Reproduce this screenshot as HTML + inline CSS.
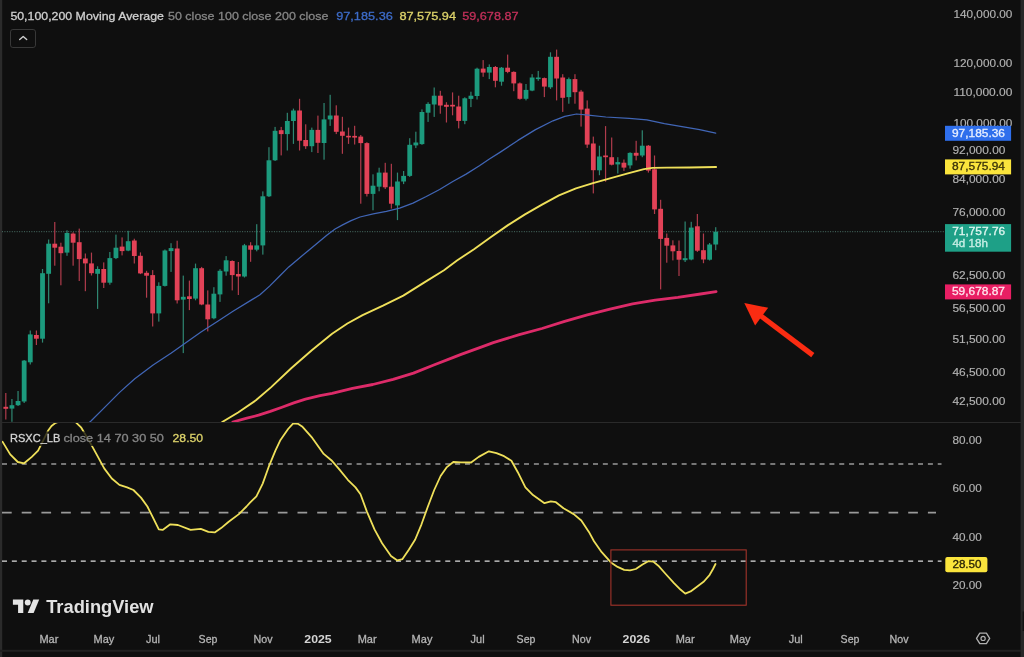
<!DOCTYPE html><html><head><meta charset="utf-8"><title>chart</title><style>
html,body{margin:0;padding:0;background:#0f0f0f;}body{width:1024px;height:657px;overflow:hidden;}
svg{display:block;font-family:"Liberation Sans",sans-serif;will-change:transform;}
</style></head><body>
<svg width="1024" height="657" viewBox="0 0 1024 657">
<rect x="0" y="0" width="1024" height="657" fill="#0f0f0f"/>
<rect x="0" y="0" width="2.2" height="657" fill="#2b2b2b"/>
<rect x="1020.6" y="0" width="3.4" height="657" fill="#272727"/><rect x="1022.6" y="611.5" width="1.4" height="19.5" fill="#121212"/>
<rect x="0" y="649.8" width="1021" height="2" fill="#212121"/>
<rect x="2" y="422" width="1019" height="1" fill="#2a2a2a"/>
<defs><clipPath id="cm"><rect x="2" y="0" width="942" height="422"/></clipPath><clipPath id="cr"><rect x="2" y="423" width="942" height="227"/></clipPath></defs>
<g clip-path="url(#cm)">
<line x1="2" y1="231.7" x2="944" y2="231.7" stroke="#5a8a7e" stroke-width="1" stroke-dasharray="1 1.45" opacity="0.8"/>
<rect x="5.20" y="393.0" width="1.2" height="26.5" fill="#b03c4c"/>
<rect x="3.40" y="406.8" width="4.8" height="2.0" fill="#e24257"/>
<rect x="11.32" y="399.0" width="1.2" height="22.8" fill="#2f8772"/>
<rect x="9.52" y="405.2" width="4.8" height="3.4" fill="#1c9a7d"/>
<rect x="17.44" y="391.0" width="1.2" height="15.0" fill="#2f8772"/>
<rect x="15.64" y="401.0" width="4.8" height="4.2" fill="#1c9a7d"/>
<rect x="23.56" y="360.0" width="1.2" height="43.0" fill="#2f8772"/>
<rect x="21.76" y="360.6" width="4.8" height="40.9" fill="#1c9a7d"/>
<rect x="29.68" y="330.5" width="1.2" height="34.0" fill="#2f8772"/>
<rect x="27.88" y="334.4" width="4.8" height="27.9" fill="#1c9a7d"/>
<rect x="35.80" y="330.5" width="1.2" height="14.5" fill="#b03c4c"/>
<rect x="34.00" y="335.0" width="4.8" height="3.7" fill="#e24257"/>
<rect x="41.92" y="269.0" width="1.2" height="73.6" fill="#2f8772"/>
<rect x="40.12" y="273.2" width="4.8" height="65.5" fill="#1c9a7d"/>
<rect x="48.04" y="239.5" width="1.2" height="63.8" fill="#2f8772"/>
<rect x="46.24" y="243.7" width="4.8" height="30.1" fill="#1c9a7d"/>
<rect x="54.16" y="222.0" width="1.2" height="43.7" fill="#b03c4c"/>
<rect x="52.36" y="243.7" width="4.8" height="4.0" fill="#e24257"/>
<rect x="60.28" y="242.7" width="1.2" height="42.6" fill="#b03c4c"/>
<rect x="58.48" y="246.7" width="4.8" height="6.5" fill="#e24257"/>
<rect x="66.40" y="230.3" width="1.2" height="25.5" fill="#2f8772"/>
<rect x="64.60" y="233.0" width="4.8" height="19.6" fill="#1c9a7d"/>
<rect x="72.52" y="232.3" width="1.2" height="33.4" fill="#b03c4c"/>
<rect x="70.72" y="233.6" width="4.8" height="9.1" fill="#e24257"/>
<rect x="78.64" y="228.6" width="1.2" height="52.4" fill="#b03c4c"/>
<rect x="76.84" y="242.2" width="4.8" height="16.9" fill="#e24257"/>
<rect x="84.76" y="253.5" width="1.2" height="37.7" fill="#b03c4c"/>
<rect x="82.96" y="258.5" width="4.8" height="4.9" fill="#e24257"/>
<rect x="90.88" y="252.6" width="1.2" height="22.9" fill="#b03c4c"/>
<rect x="89.08" y="263.4" width="4.8" height="9.8" fill="#e24257"/>
<rect x="97.00" y="266.3" width="1.2" height="42.6" fill="#2f8772"/>
<rect x="95.20" y="269.0" width="4.8" height="4.8" fill="#1c9a7d"/>
<rect x="103.12" y="262.4" width="1.2" height="25.6" fill="#b03c4c"/>
<rect x="101.32" y="269.0" width="4.8" height="13.7" fill="#e24257"/>
<rect x="109.24" y="252.0" width="1.2" height="32.7" fill="#2f8772"/>
<rect x="107.44" y="258.1" width="4.8" height="24.6" fill="#1c9a7d"/>
<rect x="115.36" y="234.6" width="1.2" height="24.5" fill="#2f8772"/>
<rect x="113.56" y="247.7" width="4.8" height="10.4" fill="#1c9a7d"/>
<rect x="121.48" y="237.4" width="1.2" height="18.0" fill="#b03c4c"/>
<rect x="119.68" y="246.6" width="4.8" height="4.5" fill="#e24257"/>
<rect x="127.60" y="230.8" width="1.2" height="20.4" fill="#2f8772"/>
<rect x="125.80" y="241.2" width="4.8" height="9.4" fill="#1c9a7d"/>
<rect x="133.72" y="238.7" width="1.2" height="24.8" fill="#b03c4c"/>
<rect x="131.92" y="240.5" width="4.8" height="15.5" fill="#e24257"/>
<rect x="139.84" y="252.4" width="1.2" height="21.7" fill="#b03c4c"/>
<rect x="138.04" y="255.8" width="4.8" height="17.6" fill="#e24257"/>
<rect x="145.96" y="270.8" width="1.2" height="26.9" fill="#b03c4c"/>
<rect x="144.16" y="272.8" width="4.8" height="2.9" fill="#e24257"/>
<rect x="152.08" y="270.1" width="1.2" height="56.4" fill="#b03c4c"/>
<rect x="150.28" y="275.1" width="4.8" height="38.3" fill="#e24257"/>
<rect x="158.20" y="282.3" width="1.2" height="39.3" fill="#2f8772"/>
<rect x="156.40" y="285.9" width="4.8" height="27.5" fill="#1c9a7d"/>
<rect x="164.32" y="249.5" width="1.2" height="37.0" fill="#2f8772"/>
<rect x="162.52" y="250.5" width="4.8" height="35.4" fill="#1c9a7d"/>
<rect x="170.44" y="243.2" width="1.2" height="28.7" fill="#2f8772"/>
<rect x="168.64" y="248.1" width="4.8" height="3.0" fill="#1c9a7d"/>
<rect x="176.56" y="240.7" width="1.2" height="62.8" fill="#b03c4c"/>
<rect x="174.76" y="248.5" width="4.8" height="51.8" fill="#e24257"/>
<rect x="182.68" y="275.6" width="1.2" height="77.5" fill="#2f8772"/>
<rect x="180.88" y="296.8" width="4.8" height="2.8" fill="#1c9a7d"/>
<rect x="188.80" y="280.6" width="1.2" height="29.5" fill="#b03c4c"/>
<rect x="187.00" y="296.3" width="4.8" height="2.7" fill="#e24257"/>
<rect x="194.92" y="263.6" width="1.2" height="36.7" fill="#2f8772"/>
<rect x="193.12" y="268.2" width="4.8" height="30.4" fill="#1c9a7d"/>
<rect x="201.04" y="266.9" width="1.2" height="38.3" fill="#b03c4c"/>
<rect x="199.24" y="268.2" width="4.8" height="36.3" fill="#e24257"/>
<rect x="207.16" y="290.4" width="1.2" height="41.0" fill="#b03c4c"/>
<rect x="205.36" y="304.5" width="4.8" height="14.8" fill="#e24257"/>
<rect x="213.28" y="287.2" width="1.2" height="32.1" fill="#2f8772"/>
<rect x="211.48" y="293.7" width="4.8" height="24.6" fill="#1c9a7d"/>
<rect x="219.40" y="269.2" width="1.2" height="32.7" fill="#2f8772"/>
<rect x="217.60" y="270.8" width="4.8" height="23.6" fill="#1c9a7d"/>
<rect x="225.52" y="256.1" width="1.2" height="19.6" fill="#2f8772"/>
<rect x="223.72" y="260.3" width="4.8" height="11.2" fill="#1c9a7d"/>
<rect x="231.64" y="260.3" width="1.2" height="30.1" fill="#b03c4c"/>
<rect x="229.84" y="261.0" width="4.8" height="14.1" fill="#e24257"/>
<rect x="237.76" y="262.0" width="1.2" height="33.0" fill="#b03c4c"/>
<rect x="235.96" y="274.0" width="4.8" height="2.5" fill="#e24257"/>
<rect x="243.88" y="243.9" width="1.2" height="33.6" fill="#2f8772"/>
<rect x="242.08" y="245.3" width="4.8" height="31.2" fill="#1c9a7d"/>
<rect x="250.00" y="242.2" width="1.2" height="19.6" fill="#b03c4c"/>
<rect x="248.20" y="245.4" width="4.8" height="4.3" fill="#e24257"/>
<rect x="256.12" y="224.2" width="1.2" height="27.1" fill="#2f8772"/>
<rect x="254.32" y="245.4" width="4.8" height="4.3" fill="#1c9a7d"/>
<rect x="262.24" y="191.4" width="1.2" height="63.2" fill="#2f8772"/>
<rect x="260.44" y="196.3" width="4.8" height="49.1" fill="#1c9a7d"/>
<rect x="268.36" y="147.2" width="1.2" height="49.8" fill="#2f8772"/>
<rect x="266.56" y="160.3" width="4.8" height="36.0" fill="#1c9a7d"/>
<rect x="274.48" y="126.9" width="1.2" height="34.1" fill="#2f8772"/>
<rect x="272.68" y="130.8" width="4.8" height="29.5" fill="#1c9a7d"/>
<rect x="280.60" y="126.9" width="1.2" height="28.5" fill="#b03c4c"/>
<rect x="278.80" y="130.2" width="4.8" height="3.9" fill="#e24257"/>
<rect x="286.72" y="112.8" width="1.2" height="37.7" fill="#2f8772"/>
<rect x="284.92" y="121.0" width="4.8" height="13.1" fill="#1c9a7d"/>
<rect x="292.84" y="108.6" width="1.2" height="35.3" fill="#2f8772"/>
<rect x="291.04" y="110.5" width="4.8" height="10.5" fill="#1c9a7d"/>
<rect x="298.96" y="98.8" width="1.2" height="51.7" fill="#b03c4c"/>
<rect x="297.16" y="110.5" width="4.8" height="30.2" fill="#e24257"/>
<rect x="305.08" y="124.3" width="1.2" height="24.6" fill="#b03c4c"/>
<rect x="303.28" y="140.0" width="4.8" height="6.2" fill="#e24257"/>
<rect x="311.20" y="127.6" width="1.2" height="24.5" fill="#2f8772"/>
<rect x="309.40" y="129.9" width="4.8" height="16.3" fill="#1c9a7d"/>
<rect x="317.32" y="115.6" width="1.2" height="37.4" fill="#b03c4c"/>
<rect x="315.52" y="129.9" width="4.8" height="12.9" fill="#e24257"/>
<rect x="323.44" y="103.0" width="1.2" height="56.7" fill="#2f8772"/>
<rect x="321.64" y="119.4" width="4.8" height="23.6" fill="#1c9a7d"/>
<rect x="329.56" y="94.8" width="1.2" height="31.1" fill="#2f8772"/>
<rect x="327.76" y="115.5" width="4.8" height="3.9" fill="#1c9a7d"/>
<rect x="335.68" y="105.3" width="1.2" height="28.8" fill="#b03c4c"/>
<rect x="333.88" y="115.5" width="4.8" height="16.3" fill="#e24257"/>
<rect x="341.80" y="116.8" width="1.2" height="37.0" fill="#b03c4c"/>
<rect x="340.00" y="131.5" width="4.8" height="4.3" fill="#e24257"/>
<rect x="347.92" y="127.6" width="1.2" height="16.3" fill="#b03c4c"/>
<rect x="346.12" y="135.8" width="4.8" height="1.6" fill="#e24257"/>
<rect x="354.04" y="125.8" width="1.2" height="18.7" fill="#b03c4c"/>
<rect x="352.24" y="135.9" width="4.8" height="1.7" fill="#e24257"/>
<rect x="360.16" y="135.0" width="1.2" height="68.7" fill="#b03c4c"/>
<rect x="358.36" y="136.6" width="4.8" height="6.5" fill="#e24257"/>
<rect x="366.28" y="142.2" width="1.2" height="54.3" fill="#b03c4c"/>
<rect x="364.48" y="143.1" width="4.8" height="50.8" fill="#e24257"/>
<rect x="372.40" y="174.3" width="1.2" height="36.0" fill="#2f8772"/>
<rect x="370.60" y="185.7" width="4.8" height="8.2" fill="#1c9a7d"/>
<rect x="378.52" y="167.7" width="1.2" height="23.6" fill="#2f8772"/>
<rect x="376.72" y="172.6" width="4.8" height="14.1" fill="#1c9a7d"/>
<rect x="384.64" y="162.8" width="1.2" height="26.2" fill="#b03c4c"/>
<rect x="382.84" y="172.6" width="4.8" height="14.7" fill="#e24257"/>
<rect x="390.76" y="163.8" width="1.2" height="44.8" fill="#b03c4c"/>
<rect x="388.96" y="186.7" width="4.8" height="17.0" fill="#e24257"/>
<rect x="396.88" y="172.6" width="1.2" height="47.5" fill="#2f8772"/>
<rect x="395.08" y="181.5" width="4.8" height="23.9" fill="#1c9a7d"/>
<rect x="403.00" y="171.0" width="1.2" height="13.1" fill="#2f8772"/>
<rect x="401.20" y="175.9" width="4.8" height="5.6" fill="#1c9a7d"/>
<rect x="409.12" y="138.2" width="1.2" height="38.7" fill="#2f8772"/>
<rect x="407.32" y="144.8" width="4.8" height="31.1" fill="#1c9a7d"/>
<rect x="415.24" y="131.7" width="1.2" height="16.4" fill="#2f8772"/>
<rect x="413.44" y="142.5" width="4.8" height="2.9" fill="#1c9a7d"/>
<rect x="421.36" y="109.4" width="1.2" height="35.4" fill="#2f8772"/>
<rect x="419.56" y="112.0" width="4.8" height="32.1" fill="#1c9a7d"/>
<rect x="427.48" y="102.2" width="1.2" height="19.7" fill="#2f8772"/>
<rect x="425.68" y="103.9" width="4.8" height="8.8" fill="#1c9a7d"/>
<rect x="433.60" y="87.5" width="1.2" height="29.4" fill="#2f8772"/>
<rect x="431.80" y="95.7" width="4.8" height="8.8" fill="#1c9a7d"/>
<rect x="439.72" y="90.8" width="1.2" height="22.9" fill="#b03c4c"/>
<rect x="437.92" y="95.7" width="4.8" height="9.8" fill="#e24257"/>
<rect x="445.84" y="102.2" width="1.2" height="20.3" fill="#b03c4c"/>
<rect x="444.04" y="104.8" width="4.8" height="2.0" fill="#e24257"/>
<rect x="451.96" y="92.4" width="1.2" height="22.9" fill="#b03c4c"/>
<rect x="450.16" y="104.8" width="4.8" height="1.7" fill="#e24257"/>
<rect x="458.08" y="95.7" width="1.2" height="32.7" fill="#b03c4c"/>
<rect x="456.28" y="106.5" width="4.8" height="14.4" fill="#e24257"/>
<rect x="464.20" y="97.3" width="1.2" height="26.9" fill="#2f8772"/>
<rect x="462.40" y="98.3" width="4.8" height="22.6" fill="#1c9a7d"/>
<rect x="470.32" y="91.7" width="1.2" height="15.4" fill="#2f8772"/>
<rect x="468.52" y="95.7" width="4.8" height="3.2" fill="#1c9a7d"/>
<rect x="476.44" y="67.7" width="1.2" height="31.8" fill="#2f8772"/>
<rect x="474.64" y="68.7" width="4.8" height="27.3" fill="#1c9a7d"/>
<rect x="482.56" y="60.1" width="1.2" height="16.7" fill="#b03c4c"/>
<rect x="480.76" y="68.6" width="4.8" height="4.0" fill="#e24257"/>
<rect x="488.68" y="64.4" width="1.2" height="14.7" fill="#2f8772"/>
<rect x="486.88" y="67.0" width="4.8" height="5.6" fill="#1c9a7d"/>
<rect x="494.80" y="66.0" width="1.2" height="21.3" fill="#b03c4c"/>
<rect x="493.00" y="67.0" width="4.8" height="13.8" fill="#e24257"/>
<rect x="500.92" y="67.0" width="1.2" height="18.7" fill="#2f8772"/>
<rect x="499.12" y="67.7" width="4.8" height="14.0" fill="#1c9a7d"/>
<rect x="507.04" y="54.6" width="1.2" height="18.6" fill="#b03c4c"/>
<rect x="505.24" y="67.7" width="4.8" height="4.2" fill="#e24257"/>
<rect x="513.16" y="71.3" width="1.2" height="19.9" fill="#b03c4c"/>
<rect x="511.36" y="71.9" width="4.8" height="11.5" fill="#e24257"/>
<rect x="519.28" y="82.4" width="1.2" height="17.3" fill="#b03c4c"/>
<rect x="517.48" y="83.4" width="4.8" height="15.4" fill="#e24257"/>
<rect x="525.40" y="84.0" width="1.2" height="16.4" fill="#2f8772"/>
<rect x="523.60" y="89.9" width="4.8" height="8.9" fill="#1c9a7d"/>
<rect x="531.52" y="74.2" width="1.2" height="17.0" fill="#2f8772"/>
<rect x="529.72" y="77.5" width="4.8" height="13.1" fill="#1c9a7d"/>
<rect x="537.64" y="70.9" width="1.2" height="9.9" fill="#2f8772"/>
<rect x="535.84" y="77.5" width="4.8" height="1.6" fill="#1c9a7d"/>
<rect x="543.76" y="77.5" width="1.2" height="19.6" fill="#b03c4c"/>
<rect x="541.96" y="78.1" width="4.8" height="8.5" fill="#e24257"/>
<rect x="549.88" y="52.3" width="1.2" height="36.6" fill="#2f8772"/>
<rect x="548.08" y="56.8" width="4.8" height="30.5" fill="#1c9a7d"/>
<rect x="556.00" y="49.6" width="1.2" height="50.8" fill="#b03c4c"/>
<rect x="554.20" y="56.8" width="4.8" height="21.7" fill="#e24257"/>
<rect x="562.12" y="74.2" width="1.2" height="37.7" fill="#b03c4c"/>
<rect x="560.32" y="77.5" width="4.8" height="20.3" fill="#e24257"/>
<rect x="568.24" y="77.5" width="1.2" height="26.2" fill="#2f8772"/>
<rect x="566.44" y="79.1" width="4.8" height="18.0" fill="#1c9a7d"/>
<rect x="574.36" y="74.2" width="1.2" height="29.5" fill="#b03c4c"/>
<rect x="572.56" y="79.1" width="4.8" height="13.1" fill="#e24257"/>
<rect x="580.48" y="89.9" width="1.2" height="36.7" fill="#b03c4c"/>
<rect x="578.68" y="91.6" width="4.8" height="18.0" fill="#e24257"/>
<rect x="586.60" y="100.4" width="1.2" height="47.5" fill="#b03c4c"/>
<rect x="584.80" y="108.6" width="4.8" height="36.0" fill="#e24257"/>
<rect x="592.72" y="136.6" width="1.2" height="56.8" fill="#b03c4c"/>
<rect x="590.92" y="143.5" width="4.8" height="26.7" fill="#e24257"/>
<rect x="598.84" y="145.7" width="1.2" height="29.5" fill="#2f8772"/>
<rect x="597.04" y="156.5" width="4.8" height="13.8" fill="#1c9a7d"/>
<rect x="604.96" y="126.1" width="1.2" height="55.6" fill="#b03c4c"/>
<rect x="603.16" y="155.5" width="4.8" height="1.7" fill="#e24257"/>
<rect x="611.08" y="137.5" width="1.2" height="27.9" fill="#b03c4c"/>
<rect x="609.28" y="157.2" width="4.8" height="7.5" fill="#e24257"/>
<rect x="617.20" y="157.2" width="1.2" height="16.3" fill="#2f8772"/>
<rect x="615.40" y="162.1" width="4.8" height="2.3" fill="#1c9a7d"/>
<rect x="623.32" y="159.5" width="1.2" height="11.4" fill="#b03c4c"/>
<rect x="621.52" y="162.7" width="4.8" height="4.9" fill="#e24257"/>
<rect x="629.44" y="152.3" width="1.2" height="16.3" fill="#2f8772"/>
<rect x="627.64" y="152.9" width="4.8" height="12.5" fill="#1c9a7d"/>
<rect x="635.56" y="140.8" width="1.2" height="19.6" fill="#b03c4c"/>
<rect x="633.76" y="152.8" width="4.8" height="2.9" fill="#e24257"/>
<rect x="641.68" y="130.3" width="1.2" height="26.9" fill="#2f8772"/>
<rect x="639.88" y="145.7" width="4.8" height="9.8" fill="#1c9a7d"/>
<rect x="647.80" y="145.0" width="1.2" height="27.6" fill="#b03c4c"/>
<rect x="646.00" y="145.7" width="4.8" height="24.9" fill="#e24257"/>
<rect x="653.92" y="155.5" width="1.2" height="58.5" fill="#b03c4c"/>
<rect x="652.12" y="169.3" width="4.8" height="40.1" fill="#e24257"/>
<rect x="660.04" y="199.8" width="1.2" height="89.6" fill="#b03c4c"/>
<rect x="658.24" y="208.8" width="4.8" height="30.1" fill="#e24257"/>
<rect x="666.16" y="233.5" width="1.2" height="29.2" fill="#b03c4c"/>
<rect x="664.36" y="237.9" width="4.8" height="7.8" fill="#e24257"/>
<rect x="672.28" y="240.3" width="1.2" height="20.1" fill="#b03c4c"/>
<rect x="670.48" y="245.4" width="4.8" height="5.9" fill="#e24257"/>
<rect x="678.40" y="240.5" width="1.2" height="35.5" fill="#b03c4c"/>
<rect x="676.60" y="251.0" width="4.8" height="8.7" fill="#e24257"/>
<rect x="684.52" y="221.5" width="1.2" height="40.5" fill="#2f8772"/>
<rect x="682.72" y="258.2" width="4.8" height="2.0" fill="#1c9a7d"/>
<rect x="690.64" y="221.8" width="1.2" height="38.5" fill="#2f8772"/>
<rect x="688.84" y="227.6" width="4.8" height="31.9" fill="#1c9a7d"/>
<rect x="696.76" y="214.0" width="1.2" height="37.9" fill="#b03c4c"/>
<rect x="694.96" y="226.3" width="4.8" height="24.4" fill="#e24257"/>
<rect x="702.88" y="233.5" width="1.2" height="29.7" fill="#b03c4c"/>
<rect x="701.08" y="250.2" width="4.8" height="9.3" fill="#e24257"/>
<rect x="709.00" y="243.0" width="1.2" height="17.5" fill="#2f8772"/>
<rect x="707.20" y="244.5" width="4.8" height="15.2" fill="#1c9a7d"/>
<rect x="715.12" y="227.2" width="1.2" height="23.0" fill="#2f8772"/>
<rect x="713.32" y="231.7" width="4.8" height="12.8" fill="#1c9a7d"/>
<polyline fill="none" stroke="#4166b6" stroke-width="1.25" stroke-linejoin="round" stroke-linecap="round" points="88.5,423.0 90.7,421.3 104.4,407.6 119.6,392.4 134.8,378.7 153.1,365.0 171.3,352.9 183.3,344.5 201.0,332.0 217.0,321.8 233.0,311.3 252.0,299.6 260.0,294.8 269.6,286.1 279.2,276.5 288.8,266.9 298.3,258.9 307.9,250.9 317.5,242.9 327.1,234.9 335.1,229.0 343.1,224.6 351.1,220.6 360.0,217.0 373.2,213.9 386.4,211.4 399.7,208.1 413.0,203.1 426.3,196.5 439.6,189.5 452.8,181.5 466.1,174.1 479.4,165.8 489.4,159.1 500.3,152.1 517.9,140.4 535.5,129.6 553.0,120.8 564.8,116.4 576.5,114.0 588.2,115.2 605.8,117.0 629.2,118.4 646.8,119.9 664.4,123.7 682.0,126.6 699.6,129.6 715.7,133.1"/>
<polyline fill="none" stroke="#efe05a" stroke-width="1.9" stroke-linejoin="round" stroke-linecap="round" points="222.2,422.0 238.1,412.5 255.9,400.3 271.2,387.1 291.5,368.0 311.8,350.2 332.1,333.7 347.4,323.5 362.6,315.1 383.0,305.7 403.3,295.6 423.6,282.9 444.0,270.2 457.0,260.5 474.0,249.2 491.0,237.0 508.0,225.1 525.0,214.4 542.0,204.7 559.0,195.4 576.0,188.3 593.0,183.2 610.0,178.4 627.0,173.6 644.0,169.1 652.4,167.9 666.6,167.6 689.2,167.5 716.1,167.0"/>
<polyline fill="none" stroke="#dd2b69" stroke-width="2.8" stroke-linejoin="round" stroke-linecap="round" points="232.8,422.0 246.9,418.1 258.6,415.2 270.3,411.4 282.0,407.2 293.8,402.9 305.5,399.1 320.0,395.6 332.1,393.4 352.5,388.3 372.8,384.5 393.1,379.4 413.5,373.1 433.8,365.0 454.1,357.1 461.1,354.4 482.5,346.6 493.3,342.6 519.3,334.7 542.0,328.5 564.6,321.4 587.3,314.9 610.0,309.2 632.6,303.9 655.2,300.2 677.9,297.4 700.5,294.0 716.1,291.6"/>
</g>
<polygon points="744.3,303.1 768.2,307.7 755.1,325.4" fill="#fb2c12"/>
<line x1="761" y1="316" x2="812.8" y2="355.1" stroke="#fb2c12" stroke-width="5.2"/>
<g clip-path="url(#cr)">
<line x1="2" y1="464" x2="941.5" y2="464" stroke="#dedede" stroke-width="1.1" stroke-dasharray="5 4.85"/>
<line x1="2" y1="561.1" x2="941.5" y2="561.1" stroke="#dedede" stroke-width="1.1" stroke-dasharray="5 4.85"/>
<line x1="2" y1="512.6" x2="936" y2="512.6" stroke="#9a9a9a" stroke-width="1.7" stroke-dasharray="9.7 10"/>
<polyline fill="none" stroke="#efe05a" stroke-width="1.8" stroke-linejoin="round" stroke-linecap="round" points="2.5,441.7 10.2,454.4 17.8,462.0 24.1,463.3 31.8,456.9 38.1,450.6 44.5,437.9 48.0,430.8 51.5,426.0 55.0,423.3 59.5,421.3 66.0,418.0 75.0,421.5 81.3,427.7 88.9,440.4 96.6,454.4 104.2,468.4 111.8,478.5 119.4,484.9 127.1,487.4 133.4,490.0 141.0,497.6 147.4,506.5 152.5,516.7 158.8,529.4 162.6,529.9 170.3,524.3 177.9,525.0 190.6,529.9 200.8,528.9 208.4,531.9 214.7,532.4 221.1,528.1 228.7,521.7 238.9,514.1 246.5,506.5 250.0,502.7 256.4,496.3 262.7,483.6 269.1,465.8 275.4,450.6 280.5,439.9 288.1,429.0 293.2,423.4 298.3,423.9 302.1,426.4 312.3,437.9 323.7,453.9 331.3,460.2 338.9,468.9 347.8,479.8 355.5,487.4 360.5,494.3 366.9,511.6 374.5,529.4 382.1,543.3 391.0,556.0 397.4,560.4 402.5,559.1 408.8,549.7 415.2,539.5 421.5,524.3 427.9,506.5 434.2,490.0 440.6,476.0 446.9,467.1 453.3,462.0 460.9,462.3 471.1,462.5 478.7,456.9 488.9,451.3 496.5,453.1 504.1,456.2 511.4,460.7 517.8,472.2 525.4,487.4 533.0,495.1 544.5,503.2 550.8,501.4 555.9,502.2 563.5,508.3 573.7,514.1 581.3,520.5 588.9,531.9 594.0,541.3 601.7,552.2 610.9,562.4 617.6,566.9 624.2,569.9 630.0,570.4 635.8,569.0 642.5,564.5 648.3,561.2 653.3,561.6 658.3,565.7 665.7,574.0 674.0,583.1 680.7,589.8 685.3,593.6 690.6,591.4 697.3,586.5 703.9,581.5 709.7,574.8 713.0,569.0 715.5,564.0"/>
<rect x="610.9" y="549.9" width="135.3" height="55.3" fill="none" stroke="#a8352b" stroke-width="1.05"/>
</g>
<text x="10.4" y="20.1" font-size="11.8" fill="#d0d0d0" font-weight="normal" text-anchor="start" textLength="153.5" lengthAdjust="spacingAndGlyphs" stroke="#d0d0d0" stroke-width="0.3">50,100,200 Moving Average</text>
<text x="168.0" y="20.1" font-size="11.8" fill="#858585" font-weight="normal" text-anchor="start" textLength="160.5" lengthAdjust="spacingAndGlyphs" stroke="#858585" stroke-width="0.3">50 close 100 close 200 close</text>
<text x="336.2" y="20.1" font-size="11.8" fill="#3d6cc9" font-weight="normal" text-anchor="start" textLength="56.6" lengthAdjust="spacingAndGlyphs" stroke="#3d6cc9" stroke-width="0.3">97,185.36</text>
<text x="399.4" y="20.1" font-size="11.8" fill="#dcd26a" font-weight="normal" text-anchor="start" textLength="56.6" lengthAdjust="spacingAndGlyphs" stroke="#dcd26a" stroke-width="0.3">87,575.94</text>
<text x="462.2" y="20.1" font-size="11.8" fill="#c3305a" font-weight="normal" text-anchor="start" textLength="56.4" lengthAdjust="spacingAndGlyphs" stroke="#c3305a" stroke-width="0.3">59,678.87</text>
<rect x="10.5" y="29.5" width="25" height="18" rx="2.4" ry="2.4" fill="none" stroke="#383838" stroke-width="1"/>
<polyline points="19.7,39.6 23.2,36.4 26.7,39.6" fill="none" stroke="#cfcfcf" stroke-width="1.35" stroke-linecap="round" stroke-linejoin="round"/>
<rect x="8" y="431.5" width="158" height="14.5" fill="#0f0f0f" opacity="0.78"/>
<text x="10.0" y="441.8" font-size="11.4" fill="#d6d6d6" font-weight="normal" text-anchor="start" textLength="50.3" lengthAdjust="spacingAndGlyphs" stroke="#d6d6d6" stroke-width="0.3">RSXC_LB</text>
<text x="63.5" y="441.8" font-size="11.4" fill="#858585" font-weight="normal" text-anchor="start" textLength="100.4" lengthAdjust="spacingAndGlyphs" stroke="#858585" stroke-width="0.3">close 14 70 30 50</text>
<text x="172.6" y="441.8" font-size="11.4" fill="#dcd26a" font-weight="normal" text-anchor="start" textLength="30.5" lengthAdjust="spacingAndGlyphs" stroke="#dcd26a" stroke-width="0.3">28.50</text>
<text x="953.4" y="17.8" font-size="10.5" fill="#b2b2b2" font-weight="normal" text-anchor="start" textLength="59.0" lengthAdjust="spacingAndGlyphs" stroke="#b2b2b2" stroke-width="0.15">140,000.00</text>
<text x="953.4" y="67.1" font-size="10.5" fill="#b2b2b2" font-weight="normal" text-anchor="start" textLength="59.0" lengthAdjust="spacingAndGlyphs" stroke="#b2b2b2" stroke-width="0.15">120,000.00</text>
<text x="953.4" y="95.7" font-size="10.5" fill="#b2b2b2" font-weight="normal" text-anchor="start" textLength="59.0" lengthAdjust="spacingAndGlyphs" stroke="#b2b2b2" stroke-width="0.15">110,000.00</text>
<text x="953.4" y="127.4" font-size="10.5" fill="#b2b2b2" font-weight="normal" text-anchor="start" textLength="59.0" lengthAdjust="spacingAndGlyphs" stroke="#b2b2b2" stroke-width="0.15">100,000.00</text>
<text x="952.4" y="153.9" font-size="10.5" fill="#b2b2b2" font-weight="normal" text-anchor="start" textLength="53.0" lengthAdjust="spacingAndGlyphs" stroke="#b2b2b2" stroke-width="0.15">92,000.00</text>
<text x="952.4" y="183.4" font-size="10.5" fill="#b2b2b2" font-weight="normal" text-anchor="start" textLength="53.0" lengthAdjust="spacingAndGlyphs" stroke="#b2b2b2" stroke-width="0.15">84,000.00</text>
<text x="952.4" y="216.0" font-size="10.5" fill="#b2b2b2" font-weight="normal" text-anchor="start" textLength="53.0" lengthAdjust="spacingAndGlyphs" stroke="#b2b2b2" stroke-width="0.15">76,000.00</text>
<text x="952.4" y="279.3" font-size="10.5" fill="#b2b2b2" font-weight="normal" text-anchor="start" textLength="53.0" lengthAdjust="spacingAndGlyphs" stroke="#b2b2b2" stroke-width="0.15">62,500.00</text>
<text x="952.4" y="311.7" font-size="10.5" fill="#b2b2b2" font-weight="normal" text-anchor="start" textLength="53.0" lengthAdjust="spacingAndGlyphs" stroke="#b2b2b2" stroke-width="0.15">56,500.00</text>
<text x="952.4" y="343.0" font-size="10.5" fill="#b2b2b2" font-weight="normal" text-anchor="start" textLength="53.0" lengthAdjust="spacingAndGlyphs" stroke="#b2b2b2" stroke-width="0.15">51,500.00</text>
<text x="952.4" y="375.5" font-size="10.5" fill="#b2b2b2" font-weight="normal" text-anchor="start" textLength="53.0" lengthAdjust="spacingAndGlyphs" stroke="#b2b2b2" stroke-width="0.15">46,500.00</text>
<text x="952.4" y="405.1" font-size="10.5" fill="#b2b2b2" font-weight="normal" text-anchor="start" textLength="53.0" lengthAdjust="spacingAndGlyphs" stroke="#b2b2b2" stroke-width="0.15">42,500.00</text>
<text x="952.4" y="443.7" font-size="10.5" fill="#b2b2b2" font-weight="normal" text-anchor="start" textLength="29.4" lengthAdjust="spacingAndGlyphs" stroke="#b2b2b2" stroke-width="0.15">80.00</text>
<text x="952.4" y="491.9" font-size="10.5" fill="#b2b2b2" font-weight="normal" text-anchor="start" textLength="29.4" lengthAdjust="spacingAndGlyphs" stroke="#b2b2b2" stroke-width="0.15">60.00</text>
<text x="952.4" y="540.9" font-size="10.5" fill="#b2b2b2" font-weight="normal" text-anchor="start" textLength="29.4" lengthAdjust="spacingAndGlyphs" stroke="#b2b2b2" stroke-width="0.15">40.00</text>
<text x="952.4" y="589.1" font-size="10.5" fill="#b2b2b2" font-weight="normal" text-anchor="start" textLength="29.4" lengthAdjust="spacingAndGlyphs" stroke="#b2b2b2" stroke-width="0.15">20.00</text>
<rect x="945" y="125.8" width="66.1" height="15" fill="#2f6fec"/>
<text x="952.0" y="136.6" font-size="10.5" fill="#e6eeff" font-weight="normal" text-anchor="start" textLength="53.0" lengthAdjust="spacingAndGlyphs" stroke="#e6eeff" stroke-width="0.3">97,185.36</text>
<rect x="945" y="159.4" width="66.1" height="15" fill="#fae43c"/>
<text x="952.0" y="170.2" font-size="10.5" fill="#3a3208" font-weight="normal" text-anchor="start" textLength="53.0" lengthAdjust="spacingAndGlyphs" stroke="#3a3208" stroke-width="0.3">87,575.94</text>
<rect x="945" y="224.1" width="66.1" height="27.6" fill="#1ea087"/>
<text x="952.2" y="235.1" font-size="10.5" fill="#dff6f0" font-weight="normal" text-anchor="start" textLength="53.0" lengthAdjust="spacingAndGlyphs" stroke="#dff6f0" stroke-width="0.3">71,757.76</text>
<text x="952.4" y="247.1" font-size="10.5" fill="#c9efe6" font-weight="normal" text-anchor="start" textLength="35.6" lengthAdjust="spacingAndGlyphs" stroke="#c9efe6" stroke-width="0.3">4d 18h</text>
<rect x="945" y="284.4" width="66.1" height="15" fill="#e81e63"/>
<text x="952.0" y="295.3" font-size="10.5" fill="#ffe3ec" font-weight="normal" text-anchor="start" textLength="53.0" lengthAdjust="spacingAndGlyphs" stroke="#ffe3ec" stroke-width="0.3">59,678.87</text>
<rect x="945.3" y="556.9" width="42.1" height="15.4" rx="2" fill="#fae43c"/>
<text x="952.4" y="568.2" font-size="10.5" fill="#2a2406" font-weight="normal" text-anchor="start" textLength="29.2" lengthAdjust="spacingAndGlyphs" stroke="#2a2406" stroke-width="0.3">28.50</text>
<text x="48.9" y="642.9" font-size="10.8" fill="#b4b4b4" font-weight="normal" text-anchor="middle" textLength="19.0" lengthAdjust="spacingAndGlyphs" stroke="#b4b4b4" stroke-width="0.3">Mar</text>
<text x="103.9" y="642.9" font-size="10.8" fill="#b4b4b4" font-weight="normal" text-anchor="middle" textLength="20.8" lengthAdjust="spacingAndGlyphs" stroke="#b4b4b4" stroke-width="0.3">May</text>
<text x="153.0" y="642.9" font-size="10.8" fill="#b4b4b4" font-weight="normal" text-anchor="middle" textLength="14.0" lengthAdjust="spacingAndGlyphs" stroke="#b4b4b4" stroke-width="0.3">Jul</text>
<text x="208.0" y="642.9" font-size="10.8" fill="#b4b4b4" font-weight="normal" text-anchor="middle" textLength="18.8" lengthAdjust="spacingAndGlyphs" stroke="#b4b4b4" stroke-width="0.3">Sep</text>
<text x="263.0" y="642.9" font-size="10.8" fill="#b4b4b4" font-weight="normal" text-anchor="middle" textLength="19.0" lengthAdjust="spacingAndGlyphs" stroke="#b4b4b4" stroke-width="0.3">Nov</text>
<text x="318.0" y="642.9" font-size="11" fill="#d4d4d4" font-weight="bold" text-anchor="middle" textLength="27.4" lengthAdjust="spacingAndGlyphs">2025</text>
<text x="367.2" y="642.9" font-size="10.8" fill="#b4b4b4" font-weight="normal" text-anchor="middle" textLength="19.0" lengthAdjust="spacingAndGlyphs" stroke="#b4b4b4" stroke-width="0.3">Mar</text>
<text x="422.0" y="642.9" font-size="10.8" fill="#b4b4b4" font-weight="normal" text-anchor="middle" textLength="20.8" lengthAdjust="spacingAndGlyphs" stroke="#b4b4b4" stroke-width="0.3">May</text>
<text x="477.6" y="642.9" font-size="10.8" fill="#b4b4b4" font-weight="normal" text-anchor="middle" textLength="14.0" lengthAdjust="spacingAndGlyphs" stroke="#b4b4b4" stroke-width="0.3">Jul</text>
<text x="526.0" y="642.9" font-size="10.8" fill="#b4b4b4" font-weight="normal" text-anchor="middle" textLength="18.8" lengthAdjust="spacingAndGlyphs" stroke="#b4b4b4" stroke-width="0.3">Sep</text>
<text x="581.5" y="642.9" font-size="10.8" fill="#b4b4b4" font-weight="normal" text-anchor="middle" textLength="19.0" lengthAdjust="spacingAndGlyphs" stroke="#b4b4b4" stroke-width="0.3">Nov</text>
<text x="636.3" y="642.9" font-size="11" fill="#d4d4d4" font-weight="bold" text-anchor="middle" textLength="27.4" lengthAdjust="spacingAndGlyphs">2026</text>
<text x="685.2" y="642.9" font-size="10.8" fill="#b4b4b4" font-weight="normal" text-anchor="middle" textLength="19.0" lengthAdjust="spacingAndGlyphs" stroke="#b4b4b4" stroke-width="0.3">Mar</text>
<text x="740.2" y="642.9" font-size="10.8" fill="#b4b4b4" font-weight="normal" text-anchor="middle" textLength="20.8" lengthAdjust="spacingAndGlyphs" stroke="#b4b4b4" stroke-width="0.3">May</text>
<text x="795.7" y="642.9" font-size="10.8" fill="#b4b4b4" font-weight="normal" text-anchor="middle" textLength="14.0" lengthAdjust="spacingAndGlyphs" stroke="#b4b4b4" stroke-width="0.3">Jul</text>
<text x="850.0" y="642.9" font-size="10.8" fill="#b4b4b4" font-weight="normal" text-anchor="middle" textLength="18.8" lengthAdjust="spacingAndGlyphs" stroke="#b4b4b4" stroke-width="0.3">Sep</text>
<text x="899.0" y="642.9" font-size="10.8" fill="#b4b4b4" font-weight="normal" text-anchor="middle" textLength="19.0" lengthAdjust="spacingAndGlyphs" stroke="#b4b4b4" stroke-width="0.3">Nov</text>
<polygon points="989.7,638.4 986.4,643.7 979.8,643.7 976.5,638.4 979.8,633.1 986.4,633.1" fill="none" stroke="#b0b0b0" stroke-width="1.3" stroke-linejoin="round"/>
<circle cx="983.1" cy="638.4" r="2.1" fill="none" stroke="#b0b0b0" stroke-width="1.2"/>
<g transform="translate(12.9,596.35) scale(0.741,0.761)" fill="#e4e4e4"><path d="M14 22H7V11H0V4h14v18z"/><circle cx="20" cy="8" r="4"/><path d="M28 22h-8l7.5-18h8L28 22z"/></g>
<text x="46.2" y="613.0" font-size="18.6" fill="#e2e2e2" font-weight="bold" text-anchor="start" textLength="107.4" lengthAdjust="spacingAndGlyphs">TradingView</text>
</svg></body></html>
